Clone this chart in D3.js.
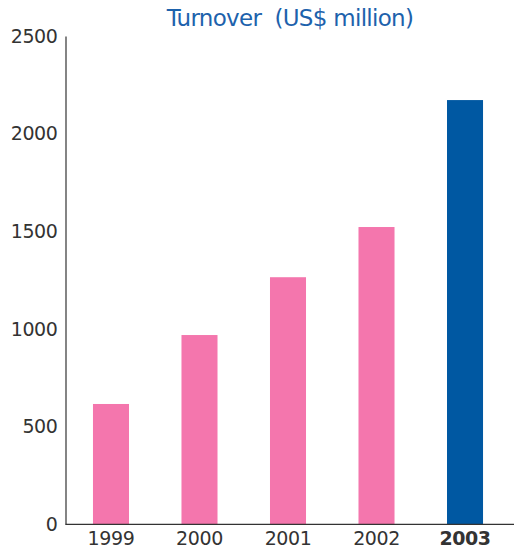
<!DOCTYPE html>
<meta charset="utf-8">
<style>
    body { margin: 0; background: #fff; }
    svg { font-family: "DejaVu Sans", sans-serif; }
    .tick-label { fill: #333; font-size: 19px; letter-spacing: -0.4px; }
</style>
<body>
<script src="https://cdn.jsdelivr.net/npm/d3@7"></script>
<script>
    // data
    const years = ["1999", "2000", "2001", "2002", "2003"];
    const turnover = [616, 969, 1265, 1522, 2172];
    const yTicks = [0, 500, 1000, 1500, 2000, 2500];

    const width = 514, height = 553;

    const svg = d3.select("body").append("svg")
        .attr("width", width)
        .attr("height", height);

    const x = d3.scaleBand()
        .domain(years)
        .range([65, 511])
        .paddingInner(0.593)
        .paddingOuter(0.316);

    const y = d3.scaleLinear()
        .domain([0, 2500])
        .range([524.3, 36]);

    // title
    svg.append("text")
        .attr("x", 290)
        .attr("y", 26)
        .attr("text-anchor", "middle")
        .style("fill", "#1d62ac")
        .style("font-size", "23px")
        .style("letter-spacing", "-0.7px")
        .style("white-space", "pre")
        .text("Turnover  (US$ million)");

    // bars
    svg.selectAll("rect.bar")
        .data(years)
        .enter().append("rect")
        .attr("class", "bar")
        .attr("x", d => x(d))
        .attr("width", x.bandwidth())
        .attr("y", (d, i) => y(turnover[i]))
        .attr("height", (d, i) => y(0) - y(turnover[i]))
        .style("fill", (d, i) => i === years.length - 1 ? "#0058a2" : "#f476ad");

    // y axis: plain line and labels, no tick marks
    const yAxis = svg.append("g")
        .attr("transform", "translate(65.5,0)")
        .call(d3.axisLeft(y).tickValues(yTicks).tickSize(0).tickPadding(8).tickFormat(d3.format("d")))
        .attr("font-family", null).attr("font-size", null);
    yAxis.select(".domain").attr("stroke", "#333").attr("stroke-width", 1.2);
    yAxis.selectAll("text").attr("class", "tick-label");

    // x axis
    const xAxis = svg.append("g")
        .attr("transform", "translate(0," + y(0) + ")")
        .call(d3.axisBottom(x).tickSize(0).tickPadding(7))
        .attr("font-family", null).attr("font-size", null);
    xAxis.select(".domain")
        .attr("d", "M65.5,0H514")
        .attr("stroke", "#333").attr("stroke-width", 1.2);
    xAxis.selectAll("text")
        .attr("class", "tick-label")
        .style("font-weight", d => d === "2003" ? "bold" : "normal");
</script>
</body>
